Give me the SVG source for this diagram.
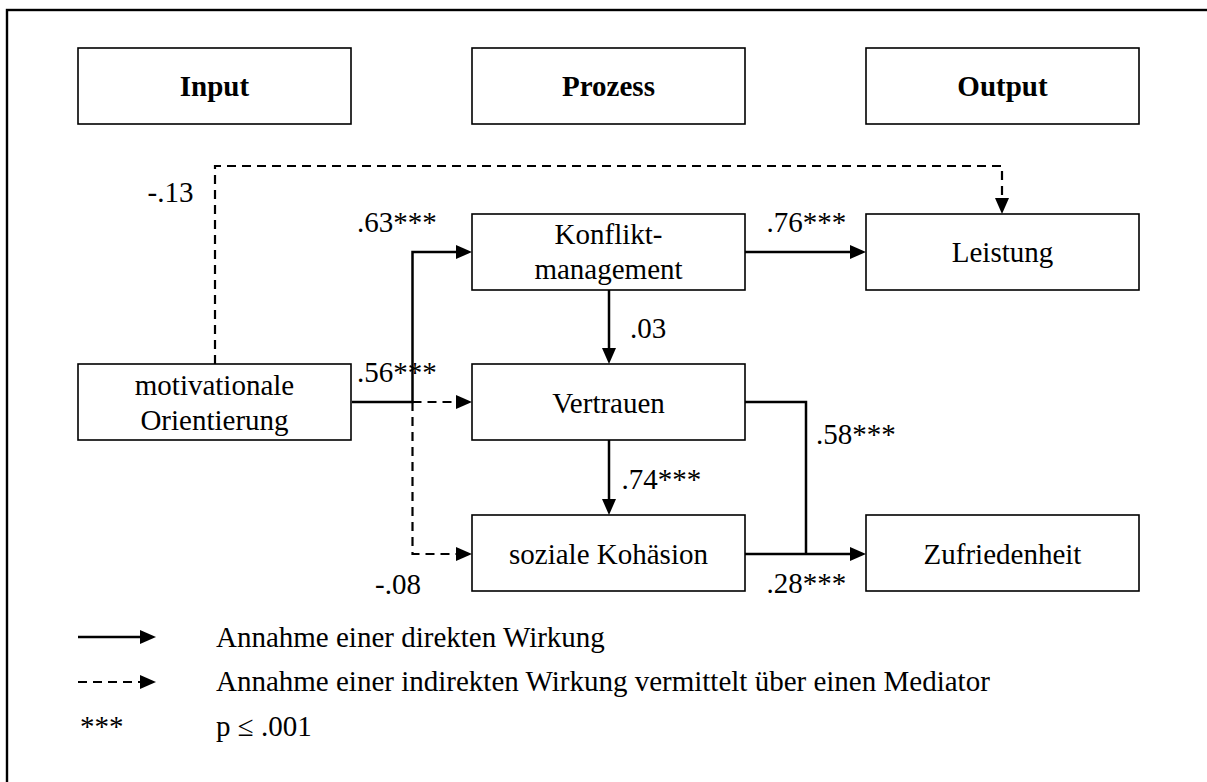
<svg xmlns="http://www.w3.org/2000/svg" width="1207" height="782" viewBox="0 0 1207 782">
<style>
text{font-family:"Liberation Serif","Times New Roman",serif;font-size:29px;fill:#000}
.c{text-anchor:middle}
.b{font-weight:bold}
.box{fill:#fff;stroke:#000;stroke-width:1.6}
.ln{fill:none;stroke:#000;stroke-width:2.5}
.ds{fill:none;stroke:#000;stroke-width:2.2;stroke-dasharray:9 6}
</style>
<defs>
<marker id="ah" markerWidth="16" markerHeight="14" refX="0" refY="7" orient="auto" markerUnits="userSpaceOnUse">
<path d="M0,0 L16,7 L0,14 z" fill="#000"/>
</marker>
</defs>
<rect x="7" y="10" width="1215" height="790" fill="#fff" stroke="#000" stroke-width="2.4"/>

<g id="connectors">
<path class="ds" d="M215,364 V166 H1002 V198" marker-end="url(#ah)"/>
<path class="ln" d="M352,402 H412.5 V252 H456" marker-end="url(#ah)"/>
<path class="ds" d="M412.5,402 H456" marker-end="url(#ah)"/>
<path class="ds" d="M412.5,402 V554 H456" marker-end="url(#ah)"/>
<path class="ln" d="M745,252 H850" marker-end="url(#ah)"/>
<path class="ln" d="M609,290 V348" marker-end="url(#ah)"/>
<path class="ln" d="M609,440 V499" marker-end="url(#ah)"/>
<path class="ln" d="M745,402 H806 V554"/>
<path class="ln" d="M745,554 H850" marker-end="url(#ah)"/>
</g>

<g id="input"><rect class="box" x="78" y="48" width="273" height="76"/><text class="c b" x="214.5" y="96">Input</text></g>
<g id="prozess"><rect class="box" x="472" y="48" width="273" height="76"/><text class="c b" x="608.5" y="96">Prozess</text></g>
<g id="output"><rect class="box" x="866" y="48" width="273" height="76"/><text class="c b" x="1002.5" y="96">Output</text></g>

<g id="konflikt"><rect class="box" x="472" y="214" width="273" height="76"/><text class="c" x="608.5" y="243.5">Konflikt-</text><text class="c" x="608.5" y="278.5">management</text></g>
<g id="leistung"><rect class="box" x="866" y="214" width="273" height="76"/><text class="c" x="1002.5" y="262">Leistung</text></g>
<g id="motivation"><rect class="box" x="78" y="364" width="273" height="76"/><text class="c" x="214.5" y="394.5">motivationale</text><text class="c" x="214.5" y="429.5">Orientierung</text></g>
<g id="vertrauen"><rect class="box" x="472" y="364" width="273" height="76"/><text class="c" x="608.5" y="412.5">Vertrauen</text></g>
<g id="kohaesion"><rect class="box" x="472" y="515" width="273" height="76"/><text class="c" x="608.5" y="563.5">soziale Kohäsion</text></g>
<g id="zufriedenheit"><rect class="box" x="866" y="515" width="273" height="76"/><text class="c" x="1002.5" y="563.5">Zufriedenheit</text></g>

<g id="labels">
<text x="147.5" y="201.5">-.13</text>
<text x="357" y="231.5">.63***</text>
<text x="766.5" y="231.5">.76***</text>
<text x="630" y="337.5">.03</text>
<text x="357" y="381.5">.56***</text>
<text x="816" y="443.5">.58***</text>
<text x="621.5" y="488.5">.74***</text>
<text x="375" y="593.5">-.08</text>
<text x="766.5" y="592.5">.28***</text>
</g>

<g id="legend">
<path class="ln" d="M78,637 H140" marker-end="url(#ah)"/>
<path class="ds" d="M78,682 H140" stroke-dasharray="8 7" marker-end="url(#ah)"/>
<text x="216" y="647">Annahme einer direkten Wirkung</text>
<text x="216" y="690.5">Annahme einer indirekten Wirkung vermittelt über einen Mediator</text>
<text x="80" y="736">***</text>
<text x="216" y="736">p ≤ .001</text>
</g>
</svg>
